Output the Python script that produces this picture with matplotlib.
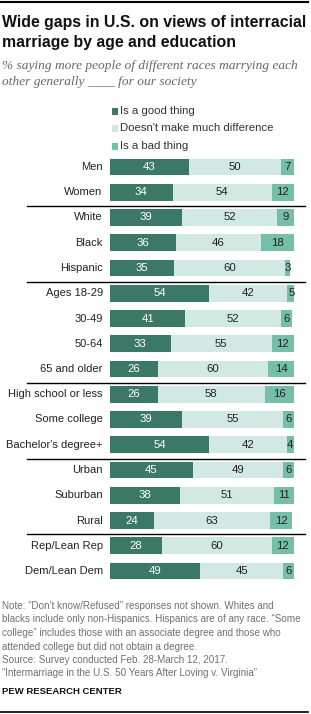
import matplotlib
matplotlib.use("Agg")
import matplotlib.pyplot as plt
from matplotlib.lines import Line2D
from matplotlib.patches import Rectangle
import matplotlib.transforms as mtransforms

categories = ["Men", "Women", "White", "Black", "Hispanic", "Ages 18-29", "30-49",
              "50-64", "65 and older", "High school or less", "Some college",
              "Bachelor's degree+", "Urban", "Suburban", "Rural", "Rep/Lean Rep",
              "Dem/Lean Dem"]
good = [43, 34, 39, 36, 35, 54, 41, 33, 26, 26, 39, 54, 45, 38, 24, 28, 49]
nodiff = [50, 54, 52, 46, 60, 42, 52, 55, 60, 58, 55, 42, 49, 51, 63, 60, 45]
bad = [7, 12, 9, 18, 3, 5, 6, 12, 14, 16, 6, 4, 6, 11, 12, 12, 6]
series_names = ["Is a good thing", "Doesn't make much difference", "Is a bad thing"]
group_breaks = [1, 4, 8, 11, 14]  # separator after these row indices

colors = ["#3b7866", "#d2e9e3", "#75bfa9"]
text_colors = ["white", "#222222", "#222222"]

W, H = 311, 714
fig = plt.figure(figsize=(W / 100, H / 100), dpi=100)
fig.patch.set_facecolor("white")

SANS = ["Liberation Sans", "DejaVu Sans"]

def fx(px):
    return px / W

def fy(py):
    return 1 - py / H

# top and bottom rules
fig.add_artist(Line2D([fx(0), fx(308)], [fy(1.5), fy(1.5)], color="black", lw=1.5))
fig.add_artist(Line2D([fx(0), fx(308)], [fy(712), fy(712)], color="black", lw=1.2))

# title
fig.text(fx(2), fy(22), "Wide gaps in U.S. on views of interracial", fontsize=11.4,
         fontweight="bold", family=SANS, va="center", ha="left", color="#111111")
fig.text(fx(2), fy(43), "marriage by age and education", fontsize=11.4,
         fontweight="bold", family=SANS, va="center", ha="left", color="#111111")
# subtitle
fig.text(fx(2), fy(66), "% saying more people of different races marrying each",
         fontsize=9.6, style="italic", family=["Liberation Serif", "DejaVu Serif"],
         va="center", ha="left", color="#666666")
fig.text(fx(2), fy(82), "other generally ____ for our society",
         fontsize=9.6, style="italic", family=["Liberation Serif", "DejaVu Serif"],
         va="center", ha="left", color="#666666")

# legend
for i, (name, c) in enumerate(zip(series_names, colors)):
    yc = [111, 128, 146][i]
    fig.add_artist(Rectangle((fx(111.5), fy(yc + 3.5)), 6.5 / W, 6.5 / H,
                             facecolor=c, edgecolor="none", transform=fig.transFigure))
    fig.text(fx(120), fy(yc), name, fontsize=8.2, family=SANS, va="center",
             ha="left", color="#333333")

# bar axes
pitch = 25.25
top_px = 167 - pitch / 2
n = len(categories)
bottom_px = top_px + n * pitch
ax = fig.add_axes([fx(110), fy(bottom_px), (294 - 110) / W, (bottom_px - top_px) / H])
ax.set_xlim(0, 100)
ax.set_ylim(n - 0.5, -0.5)
ax.axis("off")

ypos = list(range(n))
left = [0] * n
for vals, c, tc in zip([good, nodiff, bad], colors, text_colors):
    ax.barh(ypos, vals, left=left, height=0.67, color=c, edgecolor="none")
    for y, v, l in zip(ypos, vals, left):
        ax.text(l + v / 2, y, str(v), ha="center", va="center", fontsize=8.2,
                family=SANS, color=tc)
    left = [a + b for a, b in zip(left, vals)]

for y, cat in zip(ypos, categories):
    ax.text(-4, y, cat, ha="right", va="center", fontsize=8, family=SANS,
            color="#222222", clip_on=False)

blend = mtransforms.blended_transform_factory(fig.transFigure, ax.transData)
for b in group_breaks:
    fig.add_artist(Line2D([fx(27), fx(305)], [b + 0.55, b + 0.55], color="black",
                          lw=1.0, transform=blend))

# notes
notes = [
    "Note: \u201cDon\u2019t know/Refused\u201d responses not shown. Whites and",
    "blacks include only non-Hispanics. Hispanics are of any race. \u201cSome",
    "college\u201d includes those with an associate degree and those who",
    "attended college but did not obtain a degree.",
    "Source: Survey conducted Feb. 28-March 12, 2017.",
    "\u201cIntermarriage in the U.S. 50 Years After Loving v. Virginia\u201d",
]
for i, line in enumerate(notes):
    fig.text(fx(2), fy(606 + i * 13.5), line, fontsize=7.1, family=SANS,
             va="center", ha="left", color="#707070")
fig.text(fx(2), fy(691), "PEW RESEARCH CENTER", fontsize=6.8, fontweight="bold",
         family=SANS, va="center", ha="left", color="#111111")

fig.savefig("out.png", dpi=100, facecolor="white")
